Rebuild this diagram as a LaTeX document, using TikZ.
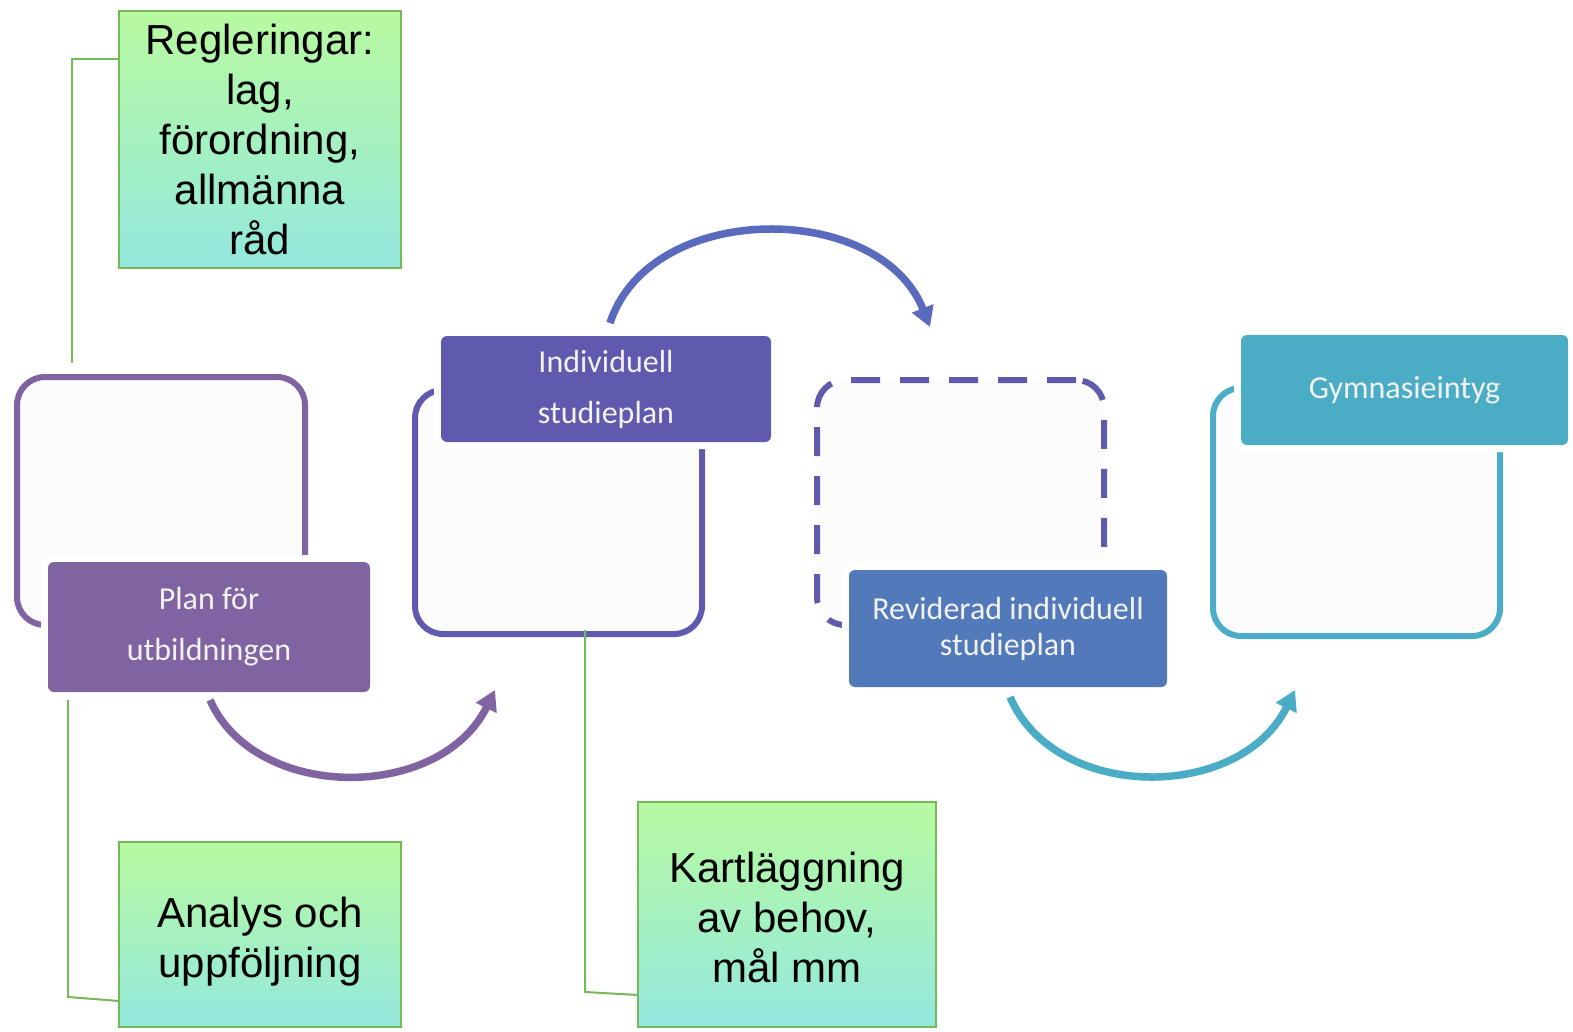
\documentclass[tikz,border=0pt]{standalone}
\usepackage{fontspec}
\setmainfont{Liberation Sans}
\newfontfamily\calfont{Carlito}
\usetikzlibrary{arrows.meta,calc}
\definecolor{cpurple}{HTML}{8064A2}
\definecolor{cindigo}{HTML}{5F5AAD}
\definecolor{carrow}{HTML}{5A6BBE}
\definecolor{cblue}{HTML}{527ABA}
\definecolor{caqua}{HTML}{4BACC6}
\definecolor{gtop}{HTML}{B8FAA0}
\definecolor{gbot}{HTML}{93E8DE}
\definecolor{gline}{HTML}{77B85A}
\definecolor{framefill}{HTML}{FCFCFC}
\begin{document}
\begin{tikzpicture}[x=1pt,y=-1pt,
  gbox/.style={draw=gline,line width=2pt,top color=gtop,bottom color=gbot,
    inner sep=0pt,outer sep=0pt},
  gtext/.style={inner sep=0pt,align=center,font=\fontsize{42}{50}\selectfont},
  frame/.style={draw=#1,line width=6pt,fill=framefill,rounded corners=28pt,
    inner sep=0pt,outer sep=0pt},
  lab/.style={fill=#1,text=white!95!black,rounded corners=6pt,inner sep=0pt,outer sep=0pt,
    preaction={draw=white,line width=14pt},align=center,
    font=\calfont\fontsize{32}{51}\selectfont},
  conn/.style={draw=gline,line width=2pt},
  carrowst/.style={draw=#1,line width=7.5pt,-{Triangle[length=20pt,width=22pt]}}
]
\useasboundingbox (0,0) rectangle (1573,1032);
\fill[white] (0,0) rectangle (1573,1032);

% frames
\node[frame=cpurple,minimum width=288pt,minimum height=248pt] (f1) at (161,501) {};
\node[frame=cindigo,minimum width=287pt,minimum height=244pt] (f2) at (558.5,512) {};
\node[frame=cindigo,dash pattern=on 29pt off 20pt,minimum width=287pt,minimum height=245pt] (f3) at (960.5,502.5) {};
\node[frame=caqua,minimum width=287pt,minimum height=248pt] (f4) at (1356.5,512) {};

% labels
\node[lab=cpurple,minimum width=322pt,minimum height=130pt] (l1) at (209,627) {Plan för\\utbildningen};
\node[lab=cindigo,minimum width=330pt,minimum height=106pt] (l2) at (606,389) {Individuell\\studieplan};
\node[lab=cblue,minimum width=318pt,minimum height=117pt,font=\calfont\fontsize{32}{36}\selectfont] (l3) at (1008,628.5) {Reviderad individuell\\studieplan};
\node[lab=caqua,minimum width=327pt,minimum height=110pt] (l4) at (1404.5,390) {Gymnasieintyg};

% curved arrows
\coordinate (a1s) at (210,700);
\coordinate (a1e) at (495,690);
\coordinate (a2s) at (610,323);
\coordinate (a2e) at (930,327);
\coordinate (a3s) at (1010,697);
\coordinate (a3e) at (1295,690);
\draw[carrowst=cpurple] (a1s) .. controls (255,802) and (440,802) .. (a1e);
\draw[carrowst=carrow] (a2s) .. controls (650,200) and (880,200) .. (a2e);
\draw[carrowst=caqua] (a3s) .. controls (1055,802) and (1240,802) .. (a3e);

% green boxes
\node[gbox,minimum width=282pt,minimum height=257pt] (reg) at (260,139.5) {};
\node[gtext] (regt) at (reg.center) {Regleringar:\\lag,\\förordning,\\allmänna\\råd};
\node[gbox,minimum width=282pt,minimum height=185pt] (an) at (260,934.5) {};
\node[gtext] (ant) at ($(an.center)+(0,7)$) {Analys och\\uppföljning};
\node[gbox,minimum width=298pt,minimum height=225pt] (kart) at (787,914.5) {};
\node[gtext] (kartt) at ($(kart.center)+(0,3)$) {Kartläggning\\av behov,\\mål mm};

% connectors
\coordinate (c1) at (72,363);
\coordinate (c2) at (68,700);
\coordinate (c3) at (585,630);
\draw[conn] ($(reg.north west)+(0,48)$) -| (c1);
\draw[conn] ($(an.south west)+(0,-26)$) -- (68,997) -- (c2);
\draw[conn] (c3) -- (585,992) -- ($(kart.south west)+(0,-32)$);
\end{tikzpicture}
\end{document}
